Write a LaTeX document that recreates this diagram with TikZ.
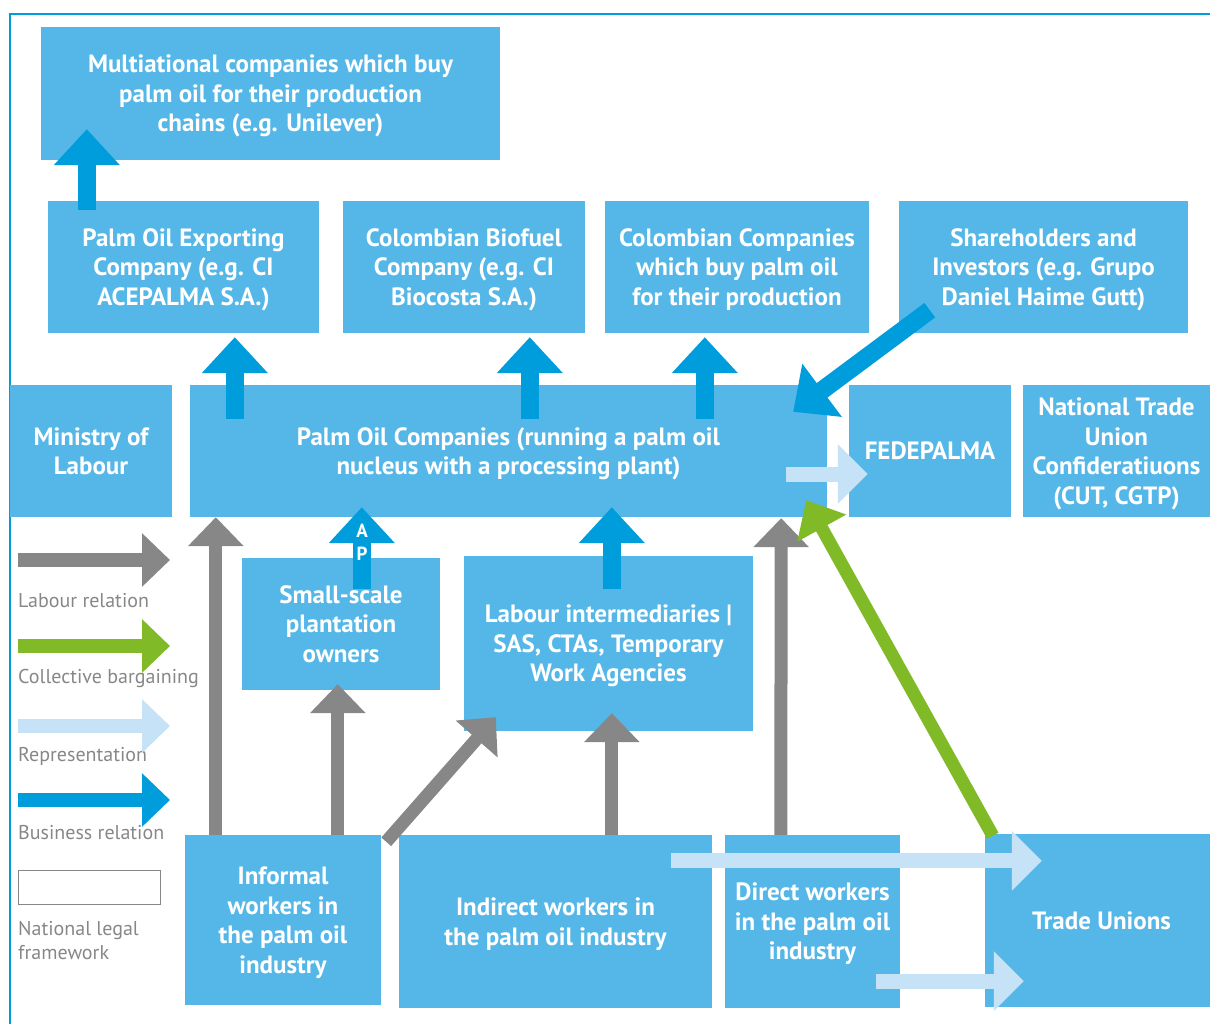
\documentclass[tikz,border=0pt]{standalone}
\usepackage{fontspec}
\setmainfont{PT Sans}
\usepackage{tikz}
\usetikzlibrary{calc,arrows.meta}

\definecolor{boxblue}{RGB}{85,183,232}
\definecolor{bizblue}{RGB}{0,157,220}
\definecolor{labgray}{RGB}{135,135,135}
\definecolor{cbgreen}{RGB}{128,186,39}
\definecolor{replight}{RGB}{198,226,247}

\newcommand{\boxfont}{\fontsize{25}{29.5}\selectfont\bfseries}
\newcommand{\legfont}{\fontsize{20}{24}\selectfont}

\begin{document}
\begin{tikzpicture}[x=1pt,y=-1pt,
    box/.style={fill=boxblue,draw=none,text=white,font=\boxfont,align=center,inner sep=0pt,text depth=0pt},
    bizarrow/.style={draw=bizblue,line width=18pt,-{Triangle[width=64pt,length=36pt]}},
    labarrow/.style={draw=labgray,line width=13pt,-{Triangle[width=54pt,length=29pt]}},
    cbarrow/.style={draw=cbgreen,line width=13pt,-{Triangle[width=54pt,length=32pt]}},
    reparrow/.style={draw=replight,line width=15pt,-{Triangle[width=58pt,length=30pt]}},
    legarrow/.style={draw=#1,line width=14pt,-{Triangle[width=52pt,length=28pt]}},
    leglabel/.style={text=labgray,font=\legfont,anchor=west,inner sep=0pt,align=left}]
    \useasboundingbox (0,0) rectangle (1210,1024);
    \draw[bizblue,line width=2.2pt] (10,1024) -- (10,14) -- (1210,14);

    %----------------------------------------------------
    % Boxes, top to bottom
    %----------------------------------------------------
    \node[box,minimum width=459pt,minimum height=133pt] (multi) at (270.5,93.5)
        {Multiational companies which buy\\palm oil for their production\\chains (e.g. Unilever)};

    \node[box,minimum width=271pt,minimum height=132pt] (export) at (183.5,267)
        {Palm Oil Exporting\\Company (e.g. CI\\ACEPALMA S.A.)};
    \node[box,minimum width=242pt,minimum height=132pt] (biofuel) at (464,267)
        {Colombian Biofuel\\Company (e.g. CI\\Biocosta S.A.)};
    \node[box,minimum width=264pt,minimum height=132pt] (colcomp) at (737,267)
        {Colombian Companies\\which buy palm oil\\for their production};
    \node[box,minimum width=289pt,minimum height=132pt] (share) at (1043.5,267)
        {Shareholders and\\Investors (e.g. Grupo\\Daniel Haime Gutt)};

    \node[box,minimum width=162pt,minimum height=132pt] (ministry) at (91,451)
        {Ministry of\\Labour};
    \node[box,minimum width=637pt,minimum height=132pt] (poc) at (508.5,451)
        {Palm Oil Companies (running a palm oil\\nucleus with a processing plant)};
    \node[box,minimum width=162pt,minimum height=132pt] (fede) at (930,451)
        {FEDEPALMA};
    \node[box,minimum width=187pt,minimum height=132pt] (ntuc) at (1116.5,451)
        {National Trade\\Union\\Confideratiuons\\(CUT, CGTP)};

    \node[box,minimum width=198pt,minimum height=132pt] (small) at (341,624)
        {Small-scale\\plantation\\owners};
    \node[box,minimum width=289pt,minimum height=175pt] (inter) at (608.5,643.5)
        {Labour intermediaries |\\SAS, CTAs, Temporary\\Work Agencies};

    \node[box,minimum width=196pt,minimum height=170pt] (informal) at (283,920)
        {Informal\\workers in\\the palm oil\\industry};
    \node[box,minimum width=313pt,minimum height=173pt] (indirect) at (555.5,921.5)
        {Indirect workers in\\the palm oil industry};
    \node[box,minimum width=175pt,minimum height=173pt] (direct) at (812.5,921.5)
        {Direct workers\\in the palm oil\\industry};
    \node[box,minimum width=225pt,minimum height=173pt] (tu) at (1097.5,920.5)
        {\hspace*{8pt}Trade Unions};

    %----------------------------------------------------
    % Business relations
    %----------------------------------------------------
    \draw[bizarrow] ($(export.north west)+(39,9)$) -- ($(multi.south west)+(46,-31)$);
    \draw[bizarrow] ($(poc.north west)+(45,34)$) -- ($(export.south west)+(187,4)$);
    \draw[bizarrow] ($(poc.north west)+(340,34)$) -- ($(biofuel.south west)+(187,4)$);
    \draw[bizarrow] ($(poc.north west)+(515,34)$) -- ($(colcomp.south west)+(100,4)$);
    \draw[bizarrow] ($(share.south west)+(31,-23)$) -- ($(poc.north east)+(-34,27)$);
    \draw[bizarrow] ($(small.north west)+(120,31)$) -- ($(poc.south west)+(172,-10)$);
    \node[text=white,font=\fontsize{19}{19}\selectfont\bfseries,inner sep=0pt] (apa) at (362,531) {A};
    \node[text=white,font=\fontsize{19}{19}\selectfont\bfseries,inner sep=0pt] (app) at (362,554) {P};
    \draw[bizarrow] ($(inter.north west)+(148,33)$) -- ($(poc.south west)+(422,-10)$);

    %----------------------------------------------------
    % Labour relations
    %----------------------------------------------------
    \draw[labarrow] ($(informal.north west)+(31,0)$) -- ($(poc.south west)+(26,0)$);
    \draw[labarrow] ($(informal.north west)+(153,0)$) -- ($(small.south west)+(96,-6)$);
    \draw[labarrow] ($(informal.north east)+(5,7)$) -- ($(inter.south west)+(32,-14)$);
    \draw[labarrow] ($(indirect.north west)+(213,0)$) -- ($(inter.south west)+(148,-18)$);
    \draw[labarrow] ($(direct.north west)+(56,0)$) -- ($(poc.south east)+(-46,1)$);

    %----------------------------------------------------
    % Representation and collective bargaining
    %----------------------------------------------------
    \draw[reparrow] ($(poc.east)+(-41,23)$) -- ($(fede.west)+(19,23)$);
    \draw[cbarrow] ($(tu.north west)+(8,2)$) -- ($(poc.south east)+(-21,-17)$);
    \draw[reparrow] ($(indirect.north east)+(-41,26)$) -- ($(tu.north west)+(57,27)$);
    \draw[reparrow] ($(direct.south east)+(-24,-27)$) -- ($(tu.south west)+(39,-26)$);

    %----------------------------------------------------
    % Legend
    %----------------------------------------------------
    \node[leglabel] (leglab) at (18,601) {Labour relation};
    \draw[legarrow=labgray] ($(leglab.west)+(0,-41)$) -- ($(leglab.west)+(152,-41)$);
    \node[leglabel] (legcb) at (18,678) {Collective bargaining};
    \draw[legarrow=cbgreen] ($(legcb.west)+(0,-32)$) -- ($(legcb.west)+(152,-32)$);
    \node[leglabel] (legrep) at (18,756) {Representation};
    \draw[legarrow=replight] ($(legrep.west)+(0,-30)$) -- ($(legrep.west)+(152,-30)$);
    \node[leglabel] (legbiz) at (18,833) {Business relation};
    \draw[legarrow=bizblue] ($(legbiz.west)+(0,-33)$) -- ($(legbiz.west)+(152,-33)$);
    \node[draw=labgray,line width=1pt,minimum width=142pt,minimum height=34pt,inner sep=0pt] (legbox) at (89,887) {};
    \node[leglabel,anchor=north west] (leglegal) at (18,921) {National legal\\framework};
\end{tikzpicture}
\end{document}
